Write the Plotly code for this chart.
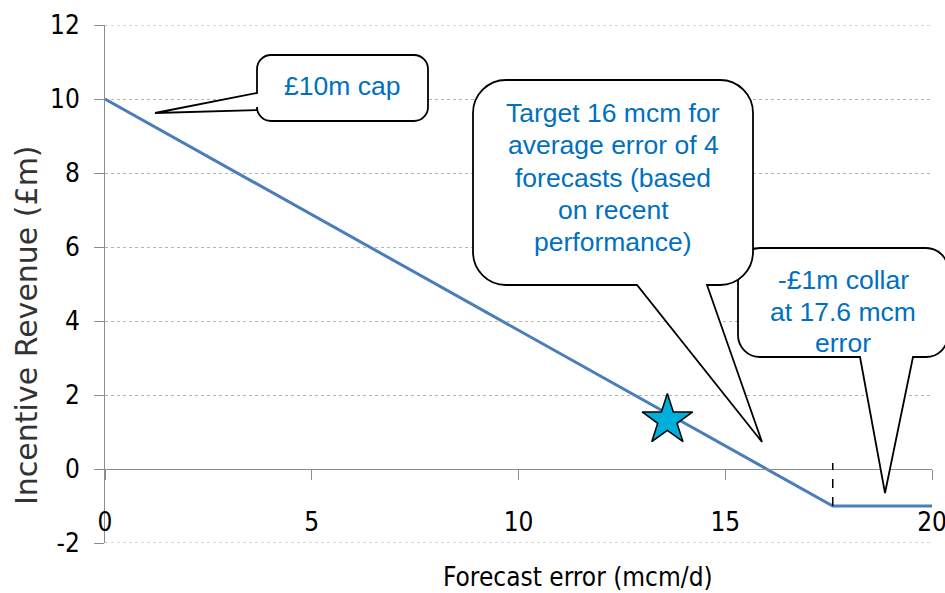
import plotly.graph_objects as go

# ---- data ----
forecast_error = [0, 17.6, 20]
incentive_revenue = [10, -1, -1]
star_x = [13.6]
star_y = [1.32]
collar_x = 17.6
collar_y = [-1, 0.16]
x_ticks = [0, 5, 10, 15, 20]
y_ticks = [-2, 0, 2, 4, 6, 8, 10, 12]

# ---- layout geometry (pixels) ----
W, H = 945, 593
PL, PR, PT, PB = 105, 932, 25, 543

def pp(px, py):
    return (px - PL) / (PR - PL), (PB - py) / (PB - PT)

def fmt(px, py):
    x, y = pp(px, py)
    return f"{x:.5f},{y:.5f}"

def bubble(x0, y0, x1, y1, r, side, a, b, tip):
    k = 0.5523 * r
    s = [f"M {fmt(x0 + r, y0)}", f"L {fmt(x1 - r, y0)}",
         f"C {fmt(x1 - r + k, y0)} {fmt(x1, y0 + r - k)} {fmt(x1, y0 + r)}",
         f"L {fmt(x1, y1 - r)}",
         f"C {fmt(x1, y1 - r + k)} {fmt(x1 - r + k, y1)} {fmt(x1 - r, y1)}"]
    if side == "bottom":
        s += [f"L {fmt(b, y1)}", f"L {fmt(*tip)}", f"L {fmt(a, y1)}"]
    s += [f"L {fmt(x0 + r, y1)}",
          f"C {fmt(x0 + r - k, y1)} {fmt(x0, y1 - r + k)} {fmt(x0, y1 - r)}"]
    if side == "left":
        s += [f"L {fmt(x0, b)}", f"L {fmt(*tip)}", f"L {fmt(x0, a)}"]
    s += [f"L {fmt(x0, y0 + r)}",
          f"C {fmt(x0, y0 + r - k)} {fmt(x0 + r - k, y0)} {fmt(x0 + r, y0)}", "Z"]
    return " ".join(s)

AX = "#8c8c8c"
GRID = "#b4b4b4"
NARROW = "Liberation Sans Narrow, Arial Narrow, DejaVu Sans Condensed, Liberation Sans, sans-serif"
TXT = "#0070C0"

fig = go.Figure()
fig.add_trace(go.Scatter(x=forecast_error, y=incentive_revenue, mode="lines",
                         line=dict(color="#4A7EBB", width=3), hoverinfo="skip"))
fig.add_trace(go.Scatter(x=star_x, y=star_y, mode="markers",
                         marker=dict(symbol="star", size=38, color="#00AEDB",
                                     line=dict(color="black", width=1.5)),
                         hoverinfo="skip"))

shapes = []
for gy in (y_ticks[0], y_ticks[-1]):
    shapes.append(dict(type="line", xref="paper", yref="y", x0=0, x1=1, y0=gy, y1=gy,
                       layer="below", line=dict(color=GRID, width=1, dash="dot")))
shapes.append(dict(type="line", xref="x", yref="y", x0=collar_x, x1=collar_x,
                   y0=collar_y[0], y1=collar_y[1],
                   line=dict(color="black", width=1.5, dash="dash")))
bub_line = dict(color="black", width=1.8)
shapes.append(dict(type="path", xref="paper", yref="paper", layer="above",
                   path=bubble(738, 248, 948, 357, 22, "bottom", 860, 913, (885, 493)),
                   fillcolor="white", line=bub_line))
shapes.append(dict(type="path", xref="paper", yref="paper", layer="above",
                   path=bubble(473, 80, 753, 285, 33, "bottom", 637, 707, (762, 442)),
                   fillcolor="white", line=bub_line))
shapes.append(dict(type="path", xref="paper", yref="paper", layer="above",
                   path=bubble(257, 55, 428, 121, 14, "left", 93, 110, (155, 113)),
                   fillcolor="white", line=bub_line))

def ann(text, px, py, **kw):
    x, y = pp(px, py)
    d = dict(text=text, x=x, y=y, xref="paper", yref="paper", showarrow=False,
             xanchor="center", yanchor="middle",
             font=dict(family="Liberation Sans, Arial, sans-serif", size=26.5, color=TXT))
    d.update(kw)
    return d

def block(lines, cx, y_first, step):
    return [ann(t, cx, y_first + i * step) for i, t in enumerate(lines)]

annotations = [ann("£10m cap", 342, 86)]
annotations += block(["Target 16 mcm for", "average error of 4", "forecasts (based",
                      "on recent", "performance)"], 613, 113, 32.25)
annotations += block(["-£1m collar", "at 17.6 mcm", "error"], 843, 280, 31.5)
annotations += [
    ann("Incentive Revenue (£m)", 26, 325, textangle=-90,
        font=dict(family="DejaVu Sans, sans-serif", size=30, color="#333333")),
    ann("Forecast error (mcm/d)", 578, 577,
        font=dict(family=NARROW, size=26, color="black")),
]

fig.update_layout(
    width=W, height=H,
    margin=dict(l=PL, r=W - PR, t=PT, b=H - PB, pad=0, autoexpand=False),
    paper_bgcolor="white", plot_bgcolor="white",
    showlegend=False,
    shapes=shapes, annotations=annotations,
    xaxis=dict(range=[0, 20], tickvals=x_ticks, ticktext=[str(v) for v in x_ticks],
               anchor="free", position=2 / 14, automargin=False,
               showline=True, linecolor=AX, linewidth=1,
               ticks="outside", ticklen=10, tickcolor=AX, tickwidth=1,
               ticklabelstandoff=20, ticklabeloverflow="allow",
               showgrid=False, zeroline=False,
               tickfont=dict(family=NARROW, size=26, color="black")),
    yaxis=dict(range=[-2, 12], tickvals=y_ticks, ticktext=[str(v) for v in y_ticks],
               automargin=False,
               showline=True, linecolor=AX, linewidth=1,
               ticks="outside", ticklen=10, tickcolor=AX, tickwidth=1,
               ticklabelstandoff=9, ticklabeloverflow="allow",
               showgrid=True, gridcolor=GRID, griddash="dot", gridwidth=1,
               zeroline=False,
               tickfont=dict(family=NARROW, size=26, color="black")),
)

fig.write_html("out.html", config={"displayModeBar": False},
               post_script="document.body.style.margin='0';document.body.style.overflow='hidden';")
